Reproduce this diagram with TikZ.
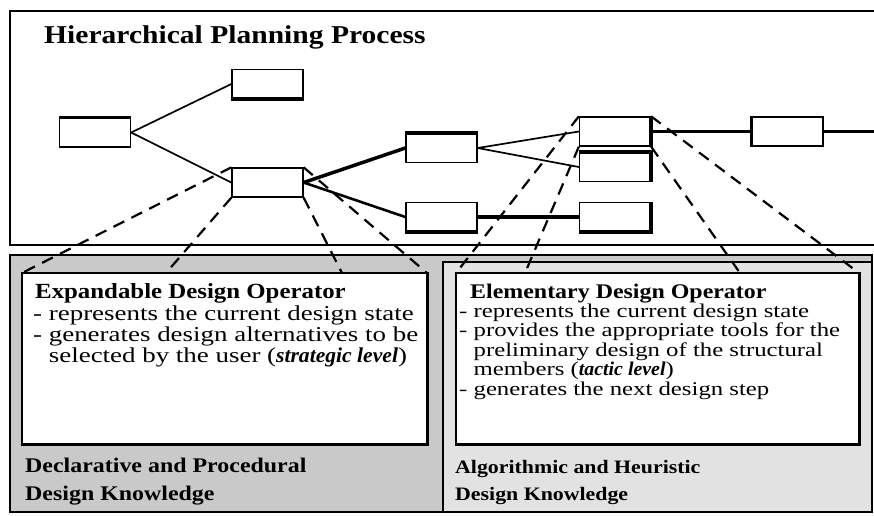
\documentclass[tikz,border=0pt]{standalone}
\usepackage{fontspec}
\setmainfont{Liberation Serif}[FakeStretch=1.15]
\newfontfamily\bodyfont{Liberation Serif}[FakeStretch=1.27]
\newfontfamily\levelfont{Liberation Serif}[FakeStretch=1.02]
\newcommand\levelname[1]{{\levelfont\bfseries\itshape #1\/}}
\begin{document}
\begin{tikzpicture}[x=1pt,y=-1pt,
  opbox/.style={draw,line width=1.3pt,fill=white,minimum width=71pt,minimum height=29pt,inner sep=0pt},
  thickside/.style={line width=3.5pt},
  thin link/.style={line width=1.7pt},
  thick link/.style={line width=3.5pt},
  proj/.style={line width=2.2pt,dash pattern=on 12pt off 8pt},
  panel/.style={draw,line width=1.4pt},
  txt/.style={inner sep=0pt,anchor=base west},
  headfont/.style={font=\fontsize{25.7}{28}\selectfont\bfseries},
  ltitle/.style={font=\fontsize{21.6}{24}\selectfont\bfseries},
  lbody/.style={font=\bodyfont\fontsize{21.2}{22}\selectfont},
  rtitle/.style={font=\fontsize{20.8}{23}\selectfont\bfseries},
  rbody/.style={font=\bodyfont\fontsize{19.5}{20}\selectfont},
  lknow/.style={font=\fontsize{20.8}{23}\selectfont\bfseries},
  rknow/.style={font=\fontsize{19}{22}\selectfont\bfseries}
]
\useasboundingbox (0,0) rectangle (874,515);
\definecolor{darkpanel}{gray}{0.79}
\definecolor{lightpanel}{gray}{0.885}

% planning frame (open to the right)
\draw[line width=1.4pt] (880,11) -- (10,11) -- (10,245) -- (880,245);

% knowledge panels
\draw[panel,fill=darkpanel] (10,255) rectangle (872,512);
\draw[line width=2.5pt] (872,255) -- (872,512) -- (10,512);
\draw[panel,fill=lightpanel] (443,262) rectangle (872,512);

% operator description boxes
\node[draw,line width=1.4pt,fill=white,minimum width=405pt,minimum height=171pt,inner sep=0pt] (lbox) at (224.5,358.5) {};
\draw[line width=2.6pt] (lbox.north east) -- (lbox.south east) -- (lbox.south west);
\node[draw,line width=1.4pt,fill=white,minimum width=403pt,minimum height=171pt,inner sep=0pt] (rbox) at (657.5,358.5) {};
\draw[line width=2.6pt] (rbox.north east) -- (rbox.south east) -- (rbox.south west);

% heading
\node[txt,headfont] (head) at (44,43) {Hierarchical Planning Process};

% planning tree
\node[opbox] (A) at (95,132.5) {};
\node[opbox] (B) at (267.5,84) {};
\node[opbox] (C) at (267.5,182.5) {};
\node[opbox] (D) at (441.5,148) {};
\node[opbox] (E) at (441.5,217) {};
\node[opbox] (F) at (615,131.5) {};
\node[opbox] (G) at (615,167) {};
\node[opbox] (H) at (615,217) {};
\node[opbox] (I) at (787.5,131.5) {};
\coordinate (Iout) at (876,131.5);

\draw[thickside] (A.north west) -- (A.north east);
\draw[thickside] (B.south west) -- (B.south east);
\draw[thickside] (D.north west) -- (D.north east);
\draw[thickside] (E.south west) -- (E.south east);
\draw[thickside] (F.north east) -- (F.south east);
\draw[thickside] (G.north west) -- (G.north east) -- (G.south east);
\draw[thickside] (H.north east) -- (H.south east) -- (H.south west);
\draw[thickside] (I.north west) -- (I.south west);

\draw[thin link] (A.east) -- (B.west);
\draw[thin link] (A.east) -- (C.west);
\draw[thick link] (C.east) -- (D.west);
\draw[line width=2.6pt] (C.east) -- (E.west);
\draw[thin link] (D.east) -- (F.west);
\draw[thin link] (D.east) -- (G.west);
\draw[thick link] (E.east) -- (H.west);
\draw[thick link] (F.east) -- (I.west);
\draw[thick link] (I.east) -- (Iout);

% projections of the operators onto their descriptions
\coordinate (l1) at (22,273);
\coordinate (l2) at (166,273);
\coordinate (l3) at (342,273);
\coordinate (l4) at (427,273);
\coordinate (r1) at (456,273);
\coordinate (r2) at (525,273);
\coordinate (r3) at (740,273);
\coordinate (r4) at (859,273);
\draw[proj] (C.north west) -- (l1);
\draw[proj] (C.south west) -- (l2);
\draw[proj] (C.south east) -- (l3);
\draw[proj] (C.north east) -- (l4);
\draw[proj] (F.north west) -- (r1);
\draw[proj] (F.south west) -- (r2);
\draw[proj] (F.south east) -- (r3);
\draw[proj] (F.north east) -- (r4);

% expandable operator
\node[txt,ltitle] (lt) at (35,298) {Expandable Design Operator};
\node[txt,lbody] (la) at (33,320) {- represents the current design state};
\node[txt,lbody] (lb) at (33,341) {- generates design alternatives to be};
\node[txt,lbody] (lc) at (33,362) {\phantom{- }selected by the user (\levelname{strategic level})};

% elementary operator
\node[txt,rtitle] (rt) at (470,298) {Elementary Design Operator};
\node[txt,rbody] (ra) at (459,317) {- represents the current design state};
\node[txt,rbody] (rb) at (459,336.5) {- provides the appropriate tools for the};
\node[txt,rbody] (rc) at (459,356) {\phantom{- }preliminary design of the structural};
\node[txt,rbody] (rd) at (459,375.5) {\phantom{- }members (\levelname{tactic level})};
\node[txt,rbody] (re) at (459,395) {- generates the next design step};

% knowledge kinds
\node[txt,lknow] (lk1) at (25,472) {Declarative and Procedural};
\node[txt,lknow] (lk2) at (25,500) {Design Knowledge};
\node[txt,rknow] (rk1) at (455,473) {Algorithmic and Heuristic};
\node[txt,rknow] (rk2) at (455,500) {Design Knowledge};
\end{tikzpicture}
\end{document}
